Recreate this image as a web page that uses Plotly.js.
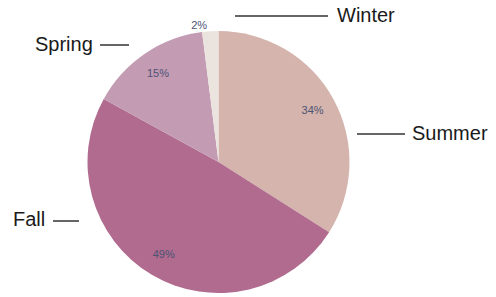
<!DOCTYPE html>
<html>
<head>
<meta charset="utf-8">
<script src="https://cdn.plot.ly/plotly-3.0.1.min.js"></script>
<style>html,body{margin:0;padding:0;background:#fff;}#chart{width:496px;height:297px;}</style>
</head>
<body>
<div id="chart"></div>
<script>
// Data (clockwise from 12 o'clock)
const seasons = ["Summer", "Fall", "Spring", "Winter"];
const shares = [34, 49, 15, 2];
const sliceColors = ["#d4b4ac", "#b06b8f", "#c39bb3", "#ebe3de"];
const percentPositions = ["inside", "inside", "inside", "outside"];

const W = 496, H = 297;
const px = v => v / W;
const py = v => 1 - v / H;

const pieDomain = {x: [px(87.5), px(349.5)], y: [py(293), py(31)]};

const basePie = {
  type: "pie",
  labels: seasons,
  values: shares,
  sort: false,
  direction: "clockwise",
  rotation: 0,
  domain: pieDomain,
  marker: {colors: sliceColors, line: {width: 0}},
  textinfo: "none",
  hoverinfo: "label+percent",
  showlegend: false
};

const textRing = {
  type: "pie",
  labels: seasons,
  values: shares,
  sort: false,
  direction: "clockwise",
  rotation: 0,
  domain: pieDomain,
  hole: 0.64,
  marker: {colors: seasons.map(() => "rgba(0,0,0,0)"), line: {width: 0}},
  texttemplate: "%{value}%",
  textinfo: "text",
  textposition: percentPositions,
  insidetextorientation: "horizontal",
  textfont: {family: "Liberation Sans, Arial, sans-serif", size: 11, color: "#4d5373"},
  outsidetextfont: {family: "Liberation Sans, Arial, sans-serif", size: 11, color: "#4d5373"},
  hoverinfo: "skip",
  showlegend: false
};

const labelFont = {family: "Liberation Sans, Arial, sans-serif", size: 20, color: "#1a1a1a"};

// leader lines [x0, x1, y]
const leaders = [[235, 328, 16], [100, 129, 45], [357, 405, 134], [53, 79, 221]];
const shapes = leaders.map(l => ({
  type: "line", xref: "paper", yref: "paper",
  x0: px(l[0]), x1: px(l[1]), y0: py(l[2]), y1: py(l[2]),
  line: {color: "#333333", width: 1.5}
}));

// label anchors [text, x, y, anchor]
const labelPos = [["Winter", 335, 15, "left"], ["Spring", 95, 44, "right"], ["Summer", 410, 133, "left"], ["Fall", 47, 219, "right"]];
const annotations = labelPos.map(a => ({
  text: a[0], xref: "paper", yref: "paper",
  x: px(a[1]), y: py(a[2]), xanchor: a[3], yanchor: "middle",
  showarrow: false, font: labelFont
}));

Plotly.newPlot("chart", [basePie, textRing], {
  width: W, height: H,
  margin: {l: 0, r: 0, t: 0, b: 0},
  paper_bgcolor: "#ffffff",
  shapes: shapes,
  annotations: annotations
}, {displayModeBar: false, staticPlot: true});
</script>
</body>
</html>
